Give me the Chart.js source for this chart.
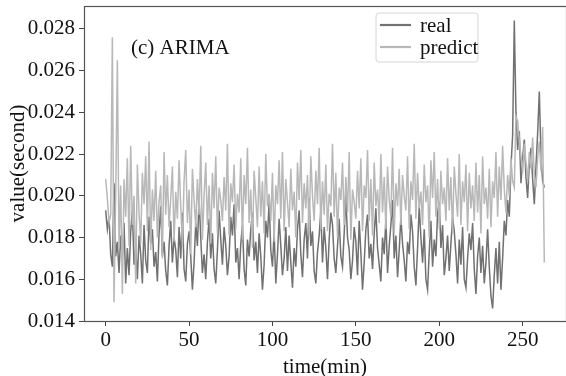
<!DOCTYPE html>
<html>
<head>
<meta charset="utf-8">
<script src="https://cdn.jsdelivr.net/npm/chart.js@4"></script>
<style>
  html, body { margin: 0; padding: 0; background: #ffffff; }
  #wrap { width: 566px; height: 376px; position: relative; }
</style>
</head>
<body>
<div id="wrap"><canvas id="c" width="566" height="376"></canvas></div>
<script>
// ---- data ----
const seriesNames = ["real", "predict"];
const panelTitle = "(c) ARIMA";
const xTickValues = [0, 50, 100, 150, 200, 250];
const yTickValues = [0.014, 0.016, 0.018, 0.020, 0.022, 0.024, 0.026, 0.028];

const realValues = [
  0.0193,0.0184,0.0190,0.0172,0.0166,0.0206,0.0171,0.0178,0.0163,0.0181,
  0.0170,0.0187,0.0158,0.0175,0.0162,0.0183,0.0193,0.0167,0.0176,0.0160,
  0.0181,0.0172,0.0158,0.0186,0.0169,0.0163,0.0190,0.0177,0.0184,0.0166,
  0.0173,0.0159,0.0182,0.0195,0.0171,0.0178,0.0164,0.0157,0.0176,0.0188,
  0.0168,0.0180,0.0174,0.0161,0.0185,0.0170,0.0192,0.0165,0.0159,0.0177,
  0.0183,0.0171,0.0155,0.0168,0.0187,0.0176,0.0199,0.0180,0.0163,0.0172,
  0.0160,0.0178,0.0189,0.0170,0.0182,0.0165,0.0158,0.0174,0.0193,0.0179,
  0.0167,0.0185,0.0176,0.0162,0.0171,0.0190,0.0181,0.0196,0.0168,0.0175,
  0.0160,0.0177,0.0186,0.0165,0.0157,0.0179,0.0171,0.0184,0.0192,0.0169,
  0.0178,0.0163,0.0182,0.0171,0.0155,0.0167,0.0188,0.0180,0.0197,0.0174,
  0.0166,0.0183,0.0158,0.0172,0.0189,0.0176,0.0162,0.0170,0.0185,0.0164,
  0.0181,0.0168,0.0156,0.0175,0.0166,0.0184,0.0193,0.0172,0.0161,0.0179,
  0.0187,0.0170,0.0199,0.0176,0.0183,0.0164,0.0158,0.0173,0.0181,0.0193,
  0.0168,0.0185,0.0175,0.0160,0.0179,0.0192,0.0186,0.0170,0.0163,0.0176,
  0.0189,0.0171,0.0166,0.0182,0.0200,0.0180,0.0174,0.0160,0.0169,0.0185,
  0.0178,0.0162,0.0188,0.0173,0.0155,0.0168,0.0184,0.0191,0.0170,0.0177,
  0.0165,0.0182,0.0194,0.0175,0.0167,0.0159,0.0180,0.0172,0.0189,0.0163,
  0.0176,0.0186,0.0198,0.0170,0.0181,0.0161,0.0174,0.0190,0.0177,0.0169,
  0.0159,0.0178,0.0172,0.0191,0.0183,0.0166,0.0157,0.0175,0.0195,0.0180,
  0.0168,0.0184,0.0160,0.0155,0.0173,0.0188,0.0166,0.0179,0.0171,0.0192,
  0.0197,0.0175,0.0186,0.0162,0.0170,0.0181,0.0164,0.0177,0.0190,0.0183,
  0.0172,0.0158,0.0179,0.0167,0.0185,0.0160,0.0156,0.0170,0.0182,0.0174,
  0.0187,0.0165,0.0153,0.0171,0.0180,0.0163,0.0176,0.0158,0.0168,0.0184,
  0.0166,0.0152,0.0146,0.0162,0.0175,0.0158,0.0178,0.0155,0.0170,0.0188,
  0.0181,0.0198,0.0190,0.0214,0.0229,0.0284,0.0240,0.0222,0.0231,0.0206,
  0.0218,0.0227,0.0209,0.0199,0.0216,0.0223,0.0208,0.0196,0.0214,0.0230,
  0.0250,0.0219,0.0207,0.0204
];

const predictValues = [
  0.0208,0.0199,0.0187,0.0191,0.0276,0.0149,0.0200,0.0265,0.0176,0.0205,
  0.0153,0.0208,0.0190,0.0218,0.0176,0.0224,0.0186,0.0200,0.0158,0.0215,
  0.0192,0.0177,0.0211,0.0196,0.0219,0.0183,0.0226,0.0174,0.0203,0.0188,
  0.0212,0.0180,0.0197,0.0205,0.0170,0.0221,0.0191,0.0210,0.0185,0.0199,
  0.0214,0.0178,0.0202,0.0189,0.0217,0.0195,0.0176,0.0207,0.0222,0.0187,
  0.0203,0.0172,0.0213,0.0198,0.0185,0.0208,0.0191,0.0224,0.0179,0.0200,
  0.0216,0.0186,0.0205,0.0177,0.0211,0.0194,0.0219,0.0182,0.0204,0.0198,
  0.0188,0.0209,0.0193,0.0225,0.0181,0.0206,0.0197,0.0215,0.0184,0.0201,
  0.0192,0.0218,0.0179,0.0210,0.0196,0.0223,0.0187,0.0203,0.0175,0.0212,
  0.0199,0.0185,0.0214,0.0190,0.0207,0.0182,0.0220,0.0195,0.0201,0.0188,
  0.0211,0.0178,0.0205,0.0196,0.0217,0.0189,0.0221,0.0183,0.0208,0.0197,
  0.0185,0.0213,0.0193,0.0202,0.0180,0.0216,0.0198,0.0222,0.0187,0.0206,
  0.0194,0.0210,0.0181,0.0219,0.0200,0.0188,0.0212,0.0196,0.0223,0.0184,
  0.0207,0.0191,0.0215,0.0183,0.0201,0.0195,0.0225,0.0190,0.0211,0.0180,
  0.0204,0.0198,0.0216,0.0186,0.0209,0.0192,0.0221,0.0179,0.0203,0.0197,
  0.0189,0.0212,0.0194,0.0218,0.0183,0.0205,0.0199,0.0222,0.0188,0.0208,
  0.0181,0.0216,0.0195,0.0203,0.0187,0.0220,0.0192,0.0209,0.0184,0.0214,
  0.0198,0.0190,0.0223,0.0182,0.0206,0.0195,0.0213,0.0186,0.0210,0.0200,
  0.0193,0.0219,0.0184,0.0207,0.0198,0.0225,0.0189,0.0211,0.0194,0.0202,
  0.0186,0.0215,0.0197,0.0205,0.0180,0.0217,0.0199,0.0221,0.0190,0.0208,
  0.0184,0.0212,0.0196,0.0204,0.0188,0.0218,0.0193,0.0209,0.0182,0.0214,
  0.0201,0.0190,0.0220,0.0186,0.0207,0.0197,0.0215,0.0183,0.0211,0.0194,
  0.0205,0.0188,0.0216,0.0192,0.0210,0.0182,0.0219,0.0196,0.0204,0.0189,
  0.0213,0.0185,0.0207,0.0199,0.0221,0.0190,0.0214,0.0198,0.0224,0.0203,
  0.0192,0.0210,0.0200,0.0218,0.0207,0.0204,0.0238,0.0236,0.0226,0.0219,
  0.0211,0.0225,0.0216,0.0207,0.0221,0.0213,0.0228,0.0210,0.0204,0.0218,
  0.0226,0.0212,0.0233,0.0168
];

// time index (minutes) for each sample
const timeMinutes = realValues.map((_, i) => i);

const FONT = "'Liberation Serif', 'Times New Roman', serif";

const framePlugin = {
  id: 'frameAndExtras',
  afterDatasetsDraw(chart) {
    const { ctx, chartArea: a } = chart;
    ctx.save();
    // spines
    ctx.strokeStyle = '#555555';
    ctx.lineWidth = 1.2;
    ctx.strokeRect(a.left + 0.5, a.top + 0.5, a.right - a.left, a.bottom - a.top);
    // panel title
    ctx.fillStyle = '#111111';
    ctx.font = '21px ' + FONT;
    ctx.textBaseline = 'middle';
    ctx.textAlign = 'left';
    ctx.fillText(panelTitle, 131, 48);
    // legend
    const bx = 376, by = 13, bw = 102, bh = 49, r = 3;
    ctx.beginPath();
    ctx.moveTo(bx + r, by);
    ctx.lineTo(bx + bw - r, by);
    ctx.quadraticCurveTo(bx + bw, by, bx + bw, by + r);
    ctx.lineTo(bx + bw, by + bh - r);
    ctx.quadraticCurveTo(bx + bw, by + bh, bx + bw - r, by + bh);
    ctx.lineTo(bx + r, by + bh);
    ctx.quadraticCurveTo(bx, by + bh, bx, by + bh - r);
    ctx.lineTo(bx, by + r);
    ctx.quadraticCurveTo(bx, by, bx + r, by);
    ctx.closePath();
    ctx.fillStyle = 'rgba(255,255,255,0.85)';
    ctx.fill();
    ctx.strokeStyle = '#d6d6d6';
    ctx.lineWidth = 1;
    ctx.stroke();
    const items = chart.data.datasets;
    const ys = [25, 47];
    items.forEach((ds, i) => {
      ctx.strokeStyle = ds.borderColor;
      ctx.lineWidth = 2.2;
      ctx.beginPath();
      ctx.moveTo(380, ys[i]);
      ctx.lineTo(411, ys[i]);
      ctx.stroke();
      ctx.fillStyle = '#111111';
      ctx.font = '21px ' + FONT;
      ctx.textBaseline = 'middle';
      ctx.fillText(ds.label, 420, ys[i] + 1);
    });
    ctx.restore();
  }
};

new Chart(document.getElementById('c'), {
  type: 'line',
  data: {
    datasets: [
      {
        label: seriesNames[0],
        data: timeMinutes.map((t, i) => ({ x: t, y: realValues[i] })),
        borderColor: '#717171',
        borderWidth: 1.5,
        pointRadius: 0,
        tension: 0,
        order: 2
      },
      {
        label: seriesNames[1],
        data: timeMinutes.map((t, i) => ({ x: t, y: predictValues[i] })),
        borderColor: '#b8b8b8',
        borderWidth: 1.5,
        pointRadius: 0,
        tension: 0,
        order: 1
      }
    ]
  },
  options: {
    responsive: false,
    animation: false,
    devicePixelRatio: 1,
    layout: { padding: { top: 6, right: 0, bottom: 0, left: 0 } },
    plugins: { legend: { display: false }, tooltip: { enabled: false } },
    scales: {
      x: {
        type: 'linear',
        min: -13,
        max: 276,
        afterBuildTicks(scale) { scale.ticks = xTickValues.map(v => ({ value: v })); },
        afterFit(scale) { scale.height = 55; scale.paddingLeft = 0; scale.paddingRight = 0; },
        grid: { drawOnChartArea: false, drawTicks: true, tickLength: 5, tickColor: '#444444', tickWidth: 1 },
        border: { display: false },
        ticks: { color: '#111111', font: { family: FONT, size: 21 }, padding: 2, maxRotation: 0, autoSkip: false },
        title: { display: true, text: 'time(min)', color: '#111111', font: { family: FONT, size: 21, lineHeight: 1 }, padding: { top: 0, bottom: -2 } }
      },
      y: {
        type: 'linear',
        min: 0.014,
        max: 0.0291,
        afterBuildTicks(scale) { scale.ticks = yTickValues.map(v => ({ value: v })); },
        afterFit(scale) { scale.width = 84; scale.paddingTop = 0; scale.paddingBottom = 0; },
        grid: { drawOnChartArea: false, drawTicks: true, tickLength: 5, tickColor: '#444444', tickWidth: 1 },
        border: { display: false },
        ticks: { color: '#111111', font: { family: FONT, size: 21 }, padding: 4, autoSkip: false, callback: v => v.toFixed(3) },
        title: { display: true, text: 'value(second)', color: '#111111', font: { family: FONT, size: 21, lineHeight: 1 }, padding: { top: 8, bottom: 0 } }
      }
    }
  },
  plugins: [framePlugin]
});
</script>
</body>
</html>
